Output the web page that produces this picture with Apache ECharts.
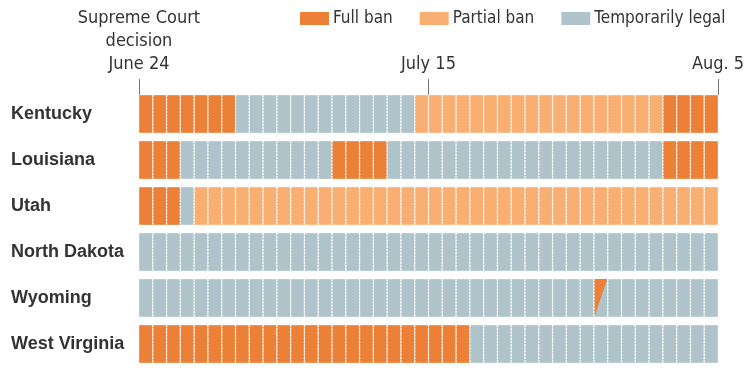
<!DOCTYPE html>
<html><head><meta charset="utf-8">
<script src="https://cdn.jsdelivr.net/npm/echarts@6/dist/echarts.min.js"></script>
<style>html,body{margin:0;padding:0;background:#fff}#c{width:750px;height:375px}</style>
</head><body><div id="c"></div>
<script>
// States (top to bottom)
const states = ['Kentucky','Louisiana','Utah','North Dakota','Wyoming','West Virginia'];
// Status runs per state, in days from June 24 (42 days to Aug. 5)
// F = full ban, P = partial ban, L = temporarily legal, X = full ban for part of a day
const kentucky     = [['F',7],['L',13],['P',18],['F',4]];
const louisiana    = [['F',3],['L',11],['F',4],['L',20],['F',4]];
const utah         = [['F',3],['L',1],['P',38]];
const northDakota  = [['L',42]];
const wyoming      = [['L',33],['X',1],['L',8]];
const westVirginia = [['F',24],['L',18]];
const runs = [kentucky, louisiana, utah, northDakota, wyoming, westVirginia];
// Tick days and labels
const tickDays = [0, 21, 42];
const tickLabels = ['Supreme Court\ndecision\nJune 24', 'July 15', 'Aug. 5'];
const legendNames = ['Full ban','Partial ban','Temporarily legal'];

const colors = {F:'#EB8036', P:'#F9AE72', L:'#AEC3CA'};
const cells = [];
runs.forEach((r, si) => {
  let d = 0;
  r.forEach(([s, n]) => { for (let i = 0; i < n; i++) { cells.push([d, si, s]); d++; } });
});
const condensed = '"Liberation Sans Narrow","DejaVu Sans Condensed","Roboto",sans-serif';

const chart = echarts.init(document.getElementById('c'));
chart.setOption({
  animation: false,
  grid: {left: 139, right: 32, top: 91, bottom: 8},
  legend: {
    left: 295, top: 5, width: 460, itemWidth: 29, itemHeight: 13, itemGap: 27,
    icon: 'rect', data: legendNames,
    textStyle: {fontFamily: condensed, fontSize: 17, color: '#333', padding: [0,0,0,-1]}
  },
  xAxis: {
    type: 'value', min: 0, max: 42, interval: 21, position: 'top', offset: -4,
    axisLine: {show: false}, splitLine: {show: false},
    axisTick: {show: true, length: 16, lineStyle: {color: '#777', width: 1}},
    axisLabel: {
      margin: 19, fontFamily: condensed, fontSize: 18, color: '#333', lineHeight: 23,
      formatter: v => tickLabels[tickDays.indexOf(v)]
    }
  },
  yAxis: {
    type: 'category', data: states, inverse: true,
    axisLine: {show: false}, axisTick: {show: false},
    axisLabel: {align: 'left', margin: 128, fontWeight: 'bold', fontSize: 18,
      fontFamily: '"Liberation Sans",Arial,sans-serif', color: '#333'}
  },
  series: [
    {name: 'Full ban', type: 'bar', data: [], itemStyle: {color: colors.F}},
    {name: 'Partial ban', type: 'bar', data: [], itemStyle: {color: colors.P}},
    {name: 'Temporarily legal', type: 'bar', data: [], itemStyle: {color: colors.L}},
    {
      type: 'custom', data: cells,
      encode: {x: 0, y: 1},
      renderItem: (params, api) => {
        const d = api.value(0), si = api.value(1);
        const s = cells[params.dataIndex][2];
        const p0 = api.coord([d, si]);
        const p1 = api.coord([d + 1, si]);
        const h = 38;
        const top = p0[1] - h / 2;
        const x0 = p0[0], x1 = p1[0];
        const children = [];
        const base = s === 'X' ? colors.L : colors[s];
        children.push({type: 'rect', shape: {x: x0, y: top, width: x1 - x0, height: h},
          style: {fill: base, stroke: 'rgba(255,255,255,0.35)', lineWidth: 1}});
        if (s === 'X') {
          children.push({type: 'polygon', shape: {points: [[x0 + 0.5, top], [x1 - 0.5, top], [x0 + 0.5, top + h]]},
            style: {fill: colors.F}});
        }
        if (d > 0) {
          children.push({type: 'line', shape: {x1: x0, y1: top, x2: x0, y2: top + h},
            style: {stroke: 'rgba(255,255,255,0.9)', lineWidth: 1.3, lineDash: [2, 1.2]}});
        }
        return {type: 'group', children};
      }
    }
  ]
});
</script></body></html>
